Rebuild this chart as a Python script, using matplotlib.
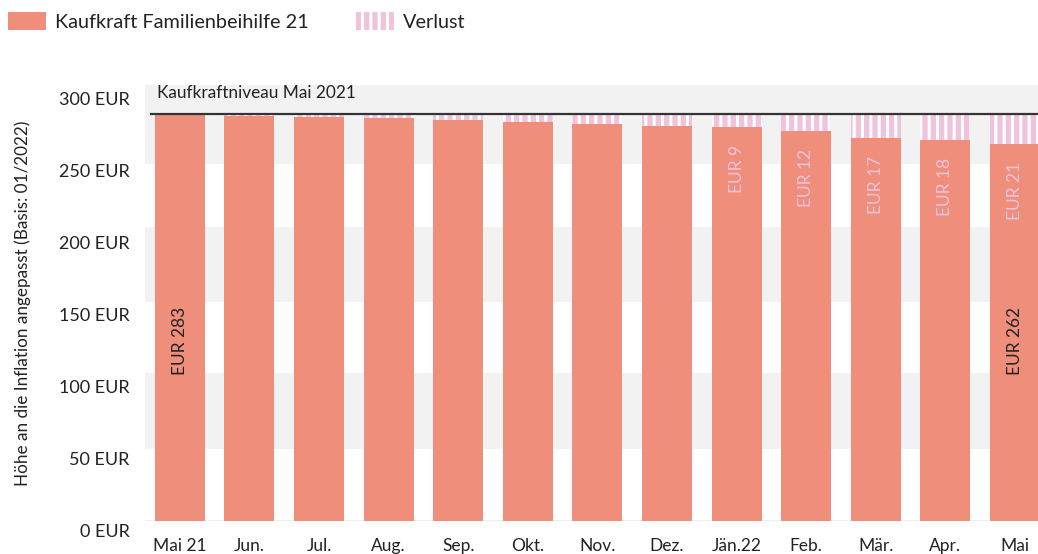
import matplotlib
matplotlib.use("Agg")
import matplotlib.pyplot as plt
from matplotlib.patches import Patch
from matplotlib.transforms import ScaledTranslation
import numpy as np

plt.rcParams['font.family'] = ['Lato', 'DejaVu Sans']
plt.rcParams['hatch.linewidth'] = 2.2

# ---- data ----
months = ["Mai 21", "Jun.", "Jul.", "Aug.", "Sep.", "Okt.", "Nov.", "Dez.",
          "Jän.22", "Feb.", "Mär.", "Apr.", "Mai"]
kaufkraft = [283, 281.8, 281, 280.4, 279, 277.6, 275.8, 274.2, 274, 271, 266, 265, 262]
niveau = 283
loss_labels = ["", "", "", "", "", "", "", "", "EUR 9", "EUR 12", "EUR 17", "EUR 18", "EUR 21"]
value_labels = ["EUR 283", "", "", "", "", "", "", "", "", "", "", "", "EUR 262"]
yticks = [0, 50, 100, 150, 200, 250, 300]
ytick_labels = ["0 EUR", "50 EUR", "100 EUR", "150 EUR", "200 EUR", "250 EUR", "300 EUR"]

c_bar = "#ee8e7b"
c_loss = "#f0c3dd"
c_band = "#f2f2f2"
c_text = "#222222"

fig = plt.figure(figsize=(10.38, 5.54), dpi=100)
ax = fig.add_axes([145/1038, 33/554, 1 - 145/1038, (521-85)/554])

x = np.arange(len(months))
loss = [niveau - v for v in kaufkraft]

# background bands
for lo, hi in [(50, 103), (152, 204), (248, 310)]:
    ax.axhspan(lo, hi, color=c_band, zorder=0, lw=0)
ax.axhline(0, color="#eeeeee", lw=1.5, zorder=0.5)

ax.bar(x, kaufkraft, width=0.72, color=c_bar, zorder=2)
ax.bar(x, loss, bottom=kaufkraft, width=0.72, facecolor=c_loss,
       edgecolor="white", hatch="||", lw=0, zorder=2)

ax.axhline(niveau, xmin=0.007, xmax=1, color="#333333", lw=1.6, zorder=3)
ax.text(-0.33, 297.5, "Kaufkraftniveau Mai 2021", fontsize=12.4, color=c_text,
        va="center", ha="left", zorder=4)

for i, lab in enumerate(loss_labels):
    if lab:
        ax.annotate(lab, (x[i], kaufkraft[i]), xytext=(0, -13),
                    textcoords="offset points", rotation=90, ha="center",
                    va="top", fontsize=12.5, color=c_loss, zorder=4)
for i, lab in enumerate(value_labels):
    if lab:
        ax.text(x[i], 125, lab, rotation=90, ha="center", va="center",
                fontsize=12.5, color=c_text, zorder=4)

ax.set_xlim(-0.5, 12.33)
ax.set_ylim(0, 303)
ax.set_xticks(x)
ax.set_xticklabels(months, fontsize=12.5, color=c_text)
ax.set_yticks(yticks)
ax.set_yticklabels(ytick_labels, fontsize=13, color=c_text, va="top")
ax.tick_params(axis="both", length=0)
ax.tick_params(axis="x", pad=12)
ax.tick_params(axis="y", pad=11)
off = ScaledTranslation(0, -3/100, fig.dpi_scale_trans)
for lab in ax.get_yticklabels():
    lab.set_transform(lab.get_transform() + off)
for s in ax.spines.values():
    s.set_visible(False)

ax.set_ylabel("Höhe an die Inflation angepasst (Basis: 01/2022)", fontsize=12.3, color=c_text)
ax.yaxis.set_label_coords(-0.128, 0.5)

handles = [Patch(facecolor=c_bar, edgecolor="none"),
           Patch(facecolor=c_loss, edgecolor="white", hatch="||", lw=0)]
fig.legend(handles, ["Kaufkraft Familienbeihilfe 21", "Verlust"], loc="upper left",
           bbox_to_anchor=(0.0, 0.992), ncol=2, frameon=False, fontsize=14.3,
           handlelength=1.9, handleheight=1.0, handletextpad=0.45,
           columnspacing=2.4, borderaxespad=0.0, labelcolor=c_text)

fig.savefig("out.png", dpi=100)
